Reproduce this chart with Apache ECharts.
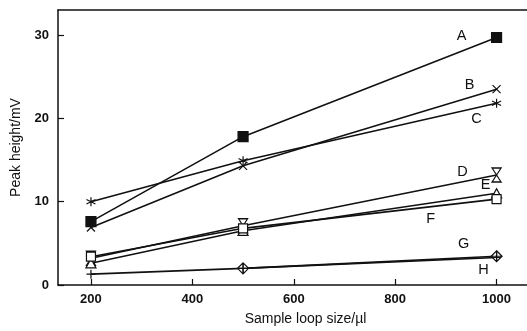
<!DOCTYPE html>
<html lang="en">
<head>
    <meta charset="UTF-8">
    <title>peak height</title>
    <script src="https://cdn.jsdelivr.net/npm/echarts@6/dist/echarts.min.js"></script>
</head>
<body style="margin:0">
<div id="main" style="width: 527px;height:331px;"></div>
<script>
    // sample loop sizes (ul)
    const loopSizes = [200, 500, 1000];
    const xTicks = [200, 400, 600, 800, 1000];
    const yTicks = [0, 10, 20, 30];

    // peak heights (mV) for each curve
    const seriesA = [7.6, 17.8, 29.7];
    const seriesB = [6.9, 14.3, 23.5];
    const seriesC = [10.0, 14.9, 21.8];
    const seriesD = [3.2, 7.1, 13.2];
    const seriesE = [2.6, 6.5, 11.0];
    const seriesF = [3.4, 6.8, 10.3];
    const seriesG = [null, 2.0, 3.45];
    const seriesH = [1.3, 2.0, 3.3];

    const names = ['A', 'B', 'C', 'D', 'E', 'F', 'G', 'H'];

    const sym = {
        A: {symbol: 'rect', size: 10, fill: '#111'},
        B: {symbol: 'path://M0 0 L10 10 M10 0 L0 10', size: 8, fill: '#fff'},
        C: {symbol: 'path://M5 0 L5 10 M0.7 2.5 L9.3 7.5 M0.7 7.5 L9.3 2.5', size: 9, fill: '#fff'},
        D: {symbol: 'path://M0 0 L10 0 L0 20 L10 20 Z', size: [9, 14], fill: '#fff'},
        E: {symbol: 'path://M5 0 L10 9 L0 9 Z', size: [10, 9], fill: '#fff'},
        F: {symbol: 'rect', size: 9, fill: '#fff'},
        G: {symbol: 'path://M5 0 L10 5 L5 10 L0 5 Z M5 0 L5 10 M0 5 L10 5', size: 11, fill: '#fff'},
        H: {symbol: 'path://M5 0 L5 10 M0 5 L10 5', size: 9, fill: '#fff'}
    };

    // where each letter sits relative to its 1000 ul point
    const labelOffsets = {
        A: [-35, -2], B: [-27, -4], C: [-20, 16], D: [-34, -3],
        E: [-11, -8], F: [-66, 20], G: [-33, -12], H: [-13, 12]
    };

    const allValues = [seriesA, seriesB, seriesC, seriesD, seriesE, seriesF, seriesG, seriesH];

    const series = names.map(function (n, i) {
        const vals = allValues[i];
        const data = vals.map(function (v, j) {
            const item = {value: [loopSizes[j], v]};
            if (j === vals.length - 1) {
                item.label = {
                    show: true,
                    formatter: n,
                    position: 'inside',
                    offset: labelOffsets[n],
                    color: '#111',
                    fontSize: 14.5,
                    fontFamily: 'Liberation Sans'
                };
            }
            return item;
        });
        return {
            name: n,
            type: 'line',
            data: data,
            symbol: sym[n].symbol,
            symbolSize: sym[n].size,
            showAllSymbol: true,
            connectNulls: false,
            lineStyle: {color: '#111', width: 1.6},
            itemStyle: {color: sym[n].fill, borderColor: '#111', borderWidth: 1.2},
            z: n === 'A' ? 3 : 2,
            animation: false
        };
    });

    const myChart = echarts.init(document.getElementById('main'));
    const option = {
        backgroundColor: '#fff',
        animation: false,
        grid: {left: 58, right: 0, top: 10, bottom: 40},
        xAxis: [{
            type: 'value',
            min: 135,
            max: 1060,
            name: 'Sample loop size/\u00b5l',
            nameLocation: 'middle',
            nameGap: 27,
            nameTextStyle: {color: '#111', fontSize: 14, fontFamily: 'Liberation Sans', padding: [0, 0, 0, 26]},
            axisLine: {lineStyle: {color: '#111', width: 1.5}},
            axisTick: {inside: true, length: 6, customValues: xTicks, lineStyle: {color: '#111', width: 1.2}},
            axisLabel: {
                customValues: xTicks,
                formatter: function (v) { return String(v); },
                color: '#111', fontSize: 13, fontWeight: 'bold', fontFamily: 'Liberation Sans', margin: 8
            },
            splitLine: {show: false}
        }, {
            type: 'value',
            position: 'top',
            min: 135,
            max: 1060,
            axisLine: {show: true, lineStyle: {color: '#111', width: 1.5}},
            axisTick: {show: false},
            axisLabel: {show: false},
            splitLine: {show: false}
        }],
        yAxis: [{
            type: 'value',
            min: 0,
            max: 33,
            name: 'Peak height/mV',
            nameLocation: 'middle',
            nameGap: 32,
            nameTextStyle: {color: '#111', fontSize: 14, fontFamily: 'Liberation Sans'},
            axisLine: {show: true, lineStyle: {color: '#111', width: 1.5}},
            axisTick: {inside: true, length: 6, customValues: yTicks, lineStyle: {color: '#111', width: 1.2}},
            axisLabel: {customValues: yTicks, color: '#111', fontSize: 13, fontWeight: 'bold', fontFamily: 'Liberation Sans', margin: 9},
            splitLine: {show: false}
        }],
        series: series
    };
    myChart.setOption(option);
</script>
</body>
</html>
